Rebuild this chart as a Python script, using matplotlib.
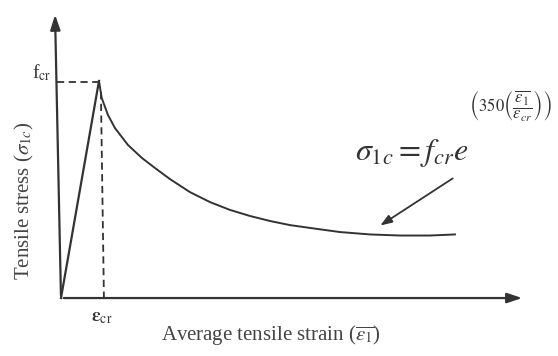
import matplotlib.pyplot as plt
import numpy as np

plt.rcParams['mathtext.fontset'] = 'stix'
plt.rcParams['font.family'] = ['Liberation Serif', 'DejaVu Serif']

INK = '#333333'

# strain in units of eps_cr, stress in units of f_cr
rise_strain = [0.0, 1.0]
rise_stress = [0.0, 1.0]

soft_strain = [1.0, 1.071, 1.237, 1.421, 1.763, 2.132, 2.474, 2.868, 3.395, 3.921, 4.447,
               4.974, 5.5, 6.026, 6.553, 7.342, 8.132, 8.921, 9.711, 10.368]
soft_stress = [1.0, 0.922, 0.843, 0.783, 0.705, 0.645, 0.599, 0.548, 0.488, 0.442, 0.406,
               0.378, 0.355, 0.336, 0.323, 0.304, 0.293, 0.288, 0.288, 0.293]

fig = plt.figure(figsize=(5.58, 3.56), dpi=100)
ax = fig.add_axes([0, 0, 1, 1])
ax.set_xlim(-1.605, 13.08)
ax.set_ylim(-0.267, 1.373)
ax.axis('off')

# axes arrows
ax.annotate('', xy=(12.21, 0), xytext=(0, 0),
            arrowprops=dict(arrowstyle='-|>,head_length=0.9,head_width=0.3', color=INK, lw=1.6))
ax.annotate('', xy=(-0.158, 1.318), xytext=(0, 0),
            arrowprops=dict(arrowstyle='-|>,head_length=0.9,head_width=0.3', color=INK, lw=1.6))

# curve
ax.plot(rise_strain, rise_stress, color=INK, lw=1.6)
ax.plot(soft_strain, soft_stress, color=INK, lw=1.4, solid_joinstyle='round')

# guide lines
ax.plot([-0.105, 1.0], [0.995, 0.995], color=INK, lw=1.3, ls=(0, (4, 2.5)))
ax.plot([1.05, 1.13], [0.949, 0.0], color=INK, lw=1.3, ls=(0, (4, 2.5)))

ax.text(-0.5, 1.04, r'f$_{\mathrm{cr}}$', fontsize=14, color=INK, ha='center', va='center')
ax.text(1.08, -0.088, r'$\boldsymbol{\varepsilon}_{\mathrm{cr}}$', fontsize=14, color=INK,
        ha='center', va='center')
ax.text(5.53, -0.17, r'Average tensile strain ($\overline{\varepsilon_1}$)', fontsize=15,
        color='#444444', ha='center', va='center')
ax.text(-0.97, 0.45, r'Tensile stress ($\sigma_{1c}$)', fontsize=15, color='#444444',
        ha='center', va='center', rotation=90)

# formula: base and exponent set separately
ax.text(7.74, 0.636, r'$\sigma_{1c} = f_{cr}e$', fontsize=23, color=INK,
        ha='left', va='baseline')
ax.text(10.74, 0.889,
        r'$\left(350\left(\dfrac{\overline{\varepsilon_1}}{\varepsilon_{cr}}\right)\right)$',
        fontsize=12, color=INK, ha='left', va='center')

ax.annotate('', xy=(8.34, 0.327), xytext=(10.37, 0.558),
            arrowprops=dict(arrowstyle='-|>,head_length=0.7,head_width=0.25', color=INK, lw=1.3))

fig.savefig('out.png', dpi=100)
